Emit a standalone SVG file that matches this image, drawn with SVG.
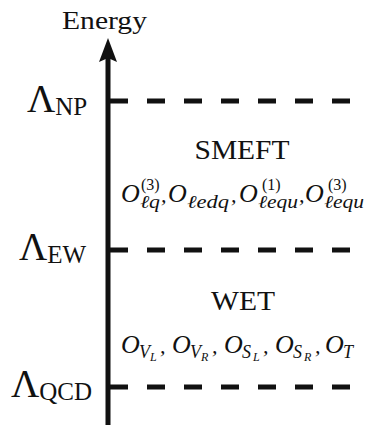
<svg xmlns="http://www.w3.org/2000/svg" width="370" height="425" viewBox="0 0 370 425" font-family="'Liberation Serif', 'DejaVu Serif', serif">
<style>
text{fill:#111}
.big{font-size:39px}
.sub{font-size:25px}
.lbl{font-size:27px}
.op{font-style:italic;font-size:26px}
.cm{font-size:22px}
.s{font-style:italic;font-size:18px}
.ss{font-style:italic;font-size:12px}
.u{font-size:16px}
.dash{stroke:#111;stroke-width:5;stroke-dasharray:18 19;fill:none}
</style>
<rect width="370" height="425" fill="#fff"/>
<g id="connectors">
<line x1="108" y1="425" x2="108" y2="56" stroke="#111" stroke-width="5"/>
<path d="M108 38 L117 62 L108 58 L99 62 Z" fill="#111"/>
<line class="dash" x1="110" y1="101" x2="352" y2="101"/>
<line class="dash" x1="110" y1="250" x2="352" y2="250"/>
<line class="dash" x1="110" y1="387" x2="352" y2="387"/>
</g>
<g id="energy"><text x="62" y="29" font-size="26" textLength="85" lengthAdjust="spacingAndGlyphs">Energy</text></g>
<g id="lnp"><text class="big" x="27" y="112">Λ<tspan class="sub" dy="3">NP</tspan></text></g>
<g id="lew"><text class="big" x="19" y="260">Λ<tspan class="sub" dy="3">EW</tspan></text></g>
<g id="lqcd"><text class="big" x="11" y="397">Λ<tspan class="sub" dy="3">QCD</tspan></text></g>
<g id="smeft">
<text class="lbl" x="242" y="159" text-anchor="middle" textLength="95" lengthAdjust="spacingAndGlyphs">SMEFT</text>
<text class="op" x="121" y="202">O</text><text class="s" x="140" y="208" textLength="20" lengthAdjust="spacingAndGlyphs">ℓq</text><text class="u" x="141" y="190">(3)</text><text class="op cm" x="161" y="202">,</text>
<text class="op" x="168" y="202">O</text><text class="s" x="187" y="208" textLength="42" lengthAdjust="spacingAndGlyphs">ℓedq</text><text class="op cm" x="231" y="202">,</text>
<text class="op" x="239" y="202">O</text><text class="s" x="258" y="208" textLength="40" lengthAdjust="spacingAndGlyphs">ℓequ</text><text class="u" x="262" y="190">(1)</text><text class="op cm" x="299" y="202">,</text>
<text class="op" x="305" y="202">O</text><text class="s" x="324" y="208" textLength="40" lengthAdjust="spacingAndGlyphs">ℓequ</text><text class="u" x="328" y="190">(3)</text>
</g>
<g id="wet">
<text class="lbl" x="243" y="310" text-anchor="middle" textLength="64" lengthAdjust="spacingAndGlyphs">WET</text>
<text class="op" x="121" y="353">O</text><text class="s" x="139" y="358">V</text><text class="ss" x="150" y="361">L</text><text class="op cm" x="160" y="353">,</text>
<text class="op" x="172" y="353">O</text><text class="s" x="190" y="358">V</text><text class="ss" x="201" y="361">R</text><text class="op cm" x="212" y="353">,</text>
<text class="op" x="224" y="353">O</text><text class="s" x="242" y="358">S</text><text class="ss" x="253" y="361">L</text><text class="op cm" x="263" y="353">,</text>
<text class="op" x="275" y="353">O</text><text class="s" x="293" y="358">S</text><text class="ss" x="304" y="361">R</text><text class="op cm" x="315" y="353">,</text>
<text class="op" x="325" y="353">O</text><text class="s" x="343" y="358">T</text>
</g>
</svg>
